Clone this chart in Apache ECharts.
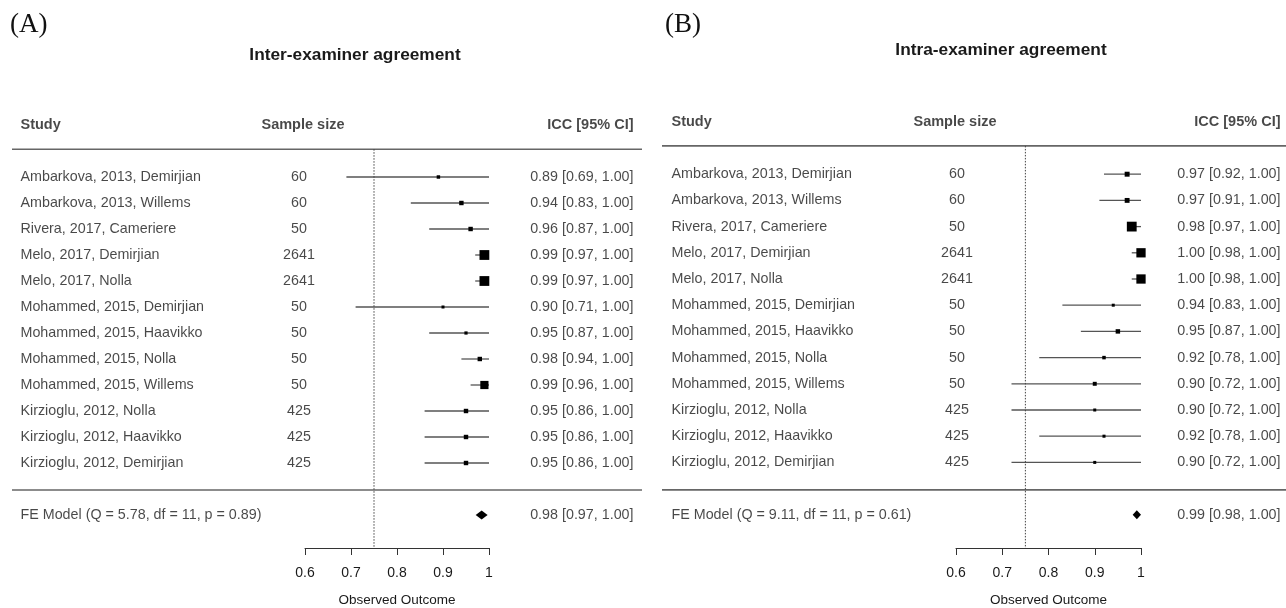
<!DOCTYPE html>
<html><head><meta charset="utf-8">
<script src="https://cdn.jsdelivr.net/npm/echarts@6/dist/echarts.min.js"></script>
<style>html,body{margin:0;padding:0;background:#fff}#c{width:1286px;height:608px}</style>
</head><body><div id="c"></div>
<script>
// ---------------- DATA ----------------
const studies = [
  'Ambarkova, 2013, Demirjian', 'Ambarkova, 2013, Willems', 'Rivera, 2017, Cameriere',
  'Melo, 2017, Demirjian', 'Melo, 2017, Nolla', 'Mohammed, 2015, Demirjian',
  'Mohammed, 2015, Haavikko', 'Mohammed, 2015, Nolla', 'Mohammed, 2015, Willems',
  'Kirzioglu, 2012, Nolla', 'Kirzioglu, 2012, Haavikko', 'Kirzioglu, 2012, Demirjian'
];
const sampleSize = [60, 60, 50, 2641, 2641, 50, 50, 50, 50, 425, 425, 425];

// Inter-examiner agreement (A)
const interEst    = [0.89, 0.94, 0.96, 0.99, 0.99, 0.90, 0.95, 0.98, 0.99, 0.95, 0.95, 0.95];
const interLower  = [0.69, 0.83, 0.87, 0.97, 0.97, 0.71, 0.87, 0.94, 0.96, 0.86, 0.86, 0.86];
const interUpper  = [1.00, 1.00, 1.00, 1.00, 1.00, 1.00, 1.00, 1.00, 1.00, 1.00, 1.00, 1.00];
const interWeight = [2.2, 5.5, 5.5, 24, 24, 0.6, 1.3, 5.5, 18.5, 5.5, 5.5, 5.5];
const interModel  = [0.984, 0.971, 0.997];          // estimate, lower, upper
const interModelLabel = 'FE Model (Q = 5.78, df = 11, p = 0.89)';

// Intra-examiner agreement (B)
const intraEst    = [0.97, 0.97, 0.98, 1.00, 1.00, 0.94, 0.95, 0.92, 0.90, 0.90, 0.92, 0.90];
const intraLower  = [0.92, 0.91, 0.97, 0.98, 0.98, 0.83, 0.87, 0.78, 0.72, 0.72, 0.78, 0.72];
const intraUpper  = [1.00, 1.00, 1.00, 1.00, 1.00, 1.00, 1.00, 1.00, 1.00, 1.00, 1.00, 1.00];
const intraWeight = [8.3, 8.0, 27, 25, 25, 0.8, 6.4, 2.7, 4.5, 0.8, 1.0, 0.8];
const intraModel  = [0.991, 0.982, 1.000];
const intraModelLabel = 'FE Model (Q = 9.11, df = 11, p = 0.61)';

const refLine = 0.75;
const axisTicks = [0.6, 0.7, 0.8, 0.9, 1];
const headers = ['Study', 'Sample size', 'ICC [95% CI]'];
const axisTitle = 'Observed Outcome';
const panelTitles = ['Inter-examiner agreement', 'Intra-examiner agreement'];
const panelTags = ['(A)', '(B)'];

// ---------------- LAYOUT / STYLE ----------------
const FONT = "'Liberation Sans', Arial, sans-serif";
const TXT = '#1a1a1a';
const panels = [
  { est: interEst, lo: interLower, hi: interUpper, w: interWeight, model: interModel, modelLabel: interModelLabel,
    frameL: 12, frameR: 642, nameX: 20, ssX: 299, ssHeadShift: 4, iccX: 634, plotL: 305, plotR: 489,
    rowTop: 151, step: 26, axisY: 548, topLine: -0.07, botLine: 13.04,
    titleX: 355, titleY: 47, tagX: 10, tagY: 11 },
  { est: intraEst, lo: intraLower, hi: intraUpper, w: intraWeight, model: intraModel, modelLabel: intraModelLabel,
    frameL: 662, frameR: 1286, nameX: 671, ssX: 957, ssHeadShift: -2, iccX: 1281, plotL: 956, plotR: 1141,
    rowTop: 148, step: 26.2, axisY: 548, topLine: -0.08, botLine: 13.05,
    titleX: 1001, titleY: 42, tagX: 665, tagY: 11 }
];

const grid = [], xAxis = [], yAxis = [], series = [], title = [];
const fmt = v => v.toFixed(2);
const ciText = (e, l, h) => `${fmt(e)} [${fmt(l)}, ${fmt(h)}]`;

panels.forEach((p, pi) => {
  const yMin = -2;
  const top = p.rowTop + yMin * p.step;
  const height = p.axisY - top;
  const yMax = (p.axisY - p.rowTop) / p.step;
  const nRows = p.est.length;
  const modelRow = nRows + 2;

  function addGrid(left, width, xmin, xmax, showX) {
    const idx = grid.length;
    grid.push({ left, top, width, height, containLabel: false, outerBoundsMode: 'none' });
    if (showX) {
      xAxis.push({
        gridIndex: idx, type: 'value', position: 'bottom', min: xmin, max: xmax, interval: 0.1,
        axisLine: { show: true, onZero: false, lineStyle: { color: '#333', width: 1 } },
        axisTick: { show: true, length: 7, lineStyle: { color: '#333', width: 1 } },
        axisLabel: { show: true, margin: 18, fontSize: 14, color: TXT, fontFamily: FONT,
          formatter: v => { const t = axisTicks.find(a => Math.abs(a - v) < 1e-6); return t === undefined ? '' : String(t); } },
        splitLine: { show: false },
        name: axisTitle, nameLocation: 'middle', nameGap: 45,
        nameTextStyle: { fontSize: 13.5, color: TXT, fontFamily: FONT }
      });
    } else {
      xAxis.push({ gridIndex: idx, type: 'value', min: xmin, max: xmax, show: false });
    }
    yAxis.push({ gridIndex: idx, type: 'value', min: yMin, max: yMax, inverse: true, show: false });
    return idx;
  }

  // frame grid (separator lines)
  const gF = addGrid(p.frameL, p.frameR - p.frameL, 0, 1, false);
  [p.topLine, p.botLine].forEach(v => series.push({
    type: 'line', xAxisIndex: gF, yAxisIndex: gF, silent: true, symbol: 'none', animation: false,
    lineStyle: { color: '#666', width: 1.6 }, data: [[0, v], [1, v]]
  }));

  // text columns
  function textSeries(g, items, position, bold, offset) {
    series.push({
      type: 'scatter', xAxisIndex: g, yAxisIndex: g, silent: true, animation: false, clip: false,
      symbolSize: 1, itemStyle: { color: 'rgba(0,0,0,0)' },
      label: { show: true, position, distance: 0, offset: offset || [0, 0],
        fontSize: bold ? 14.5 : 14.3, fontWeight: bold ? 'bold' : 'normal',
        color: TXT, fontFamily: FONT, formatter: d => d.value[2] },
      data: items
    });
  }
  const gN = addGrid(p.nameX, 1, 0, 1, false);
  textSeries(gN, studies.map((s, i) => [0, i + 1, s]).concat([[0, modelRow, p.modelLabel]]), 'right', false);
  textSeries(gN, [[0, -1, headers[0]]], 'right', true);

  const gS = addGrid(p.ssX, 1, 0, 1, false);
  textSeries(gS, sampleSize.map((n, i) => [0, i + 1, String(n)]), 'inside', false);
  textSeries(gS, [[0, -1, headers[1]]], 'inside', true, [p.ssHeadShift, 0]);

  const gI = addGrid(p.iccX, 1, 0, 1, false);
  textSeries(gI, p.est.map((e, i) => [0, i + 1, ciText(e, p.lo[i], p.hi[i])])
    .concat([[0, modelRow, ciText(p.model[0], p.model[1], p.model[2])]]), 'left', false);
  textSeries(gI, [[0, -1, headers[2]]], 'left', true);

  // plot grid
  const gP = addGrid(p.plotL, p.plotR - p.plotL, axisTicks[0], axisTicks[axisTicks.length - 1], true);
  series.push({
    type: 'line', xAxisIndex: gP, yAxisIndex: gP, silent: true, symbol: 'none', animation: false,
    lineStyle: { color: '#444', width: 1, type: [1.5, 1.5] },
    data: [[refLine, p.topLine], [refLine, yMax]]
  });
  const wMin = Math.min(...p.w), wMax = Math.max(...p.w);
  const sizeOf = w => 3 + 6.8 * (w - wMin) / (wMax - wMin);
  series.push({
    type: 'custom', xAxisIndex: gP, yAxisIndex: gP, silent: true, animation: false, clip: false,
    data: p.est.map((e, i) => [e, i + 1, p.lo[i], p.hi[i], sizeOf(p.w[i])]),
    renderItem: (params, api) => {
      const row = api.value(1);
      const pe = api.coord([api.value(0), row]);
      const pl = api.coord([api.value(2), row]);
      const ph = api.coord([api.value(3), row]);
      const s = api.value(4);
      return { type: 'group', children: [
        { type: 'line', shape: { x1: pl[0], y1: pe[1], x2: ph[0], y2: pe[1] }, style: { stroke: '#555', lineWidth: 1.3 } },
        { type: 'rect', shape: { x: pe[0] - s / 2, y: pe[1] - s / 2, width: s, height: s }, style: { fill: '#000' } }
      ]};
    }
  });
  series.push({
    type: 'custom', xAxisIndex: gP, yAxisIndex: gP, silent: true, animation: false, clip: false,
    data: [[p.model[0], modelRow, p.model[1], p.model[2]]],
    renderItem: (params, api) => {
      const row = api.value(1);
      const pe = api.coord([api.value(0), row]);
      const pl = api.coord([api.value(2), row]);
      const ph = api.coord([api.value(3), row]);
      const h = 4.5;
      return { type: 'polygon', shape: { points: [[pl[0], pe[1]], [pe[0], pe[1] - h], [ph[0], pe[1]], [pe[0], pe[1] + h]] },
        style: { fill: '#000' } };
    }
  });

  title.push({ text: panelTags[pi], left: p.tagX, top: p.tagY, padding: 0,
    textStyle: { fontFamily: "'Liberation Serif', 'Times New Roman', serif", fontSize: 27, fontWeight: 'normal', color: '#111' } });
  title.push({ text: panelTitles[pi], left: p.titleX, top: p.titleY, padding: 0, textAlign: 'center',
    textStyle: { fontFamily: FONT, fontSize: 17.3, fontWeight: 'bold', color: TXT } });
});

const chart = echarts.init(document.getElementById('c'), null, { renderer: 'canvas' });
chart.setOption({ animation: false, backgroundColor: '#fff', title, grid, xAxis, yAxis, series });
</script></body></html>
